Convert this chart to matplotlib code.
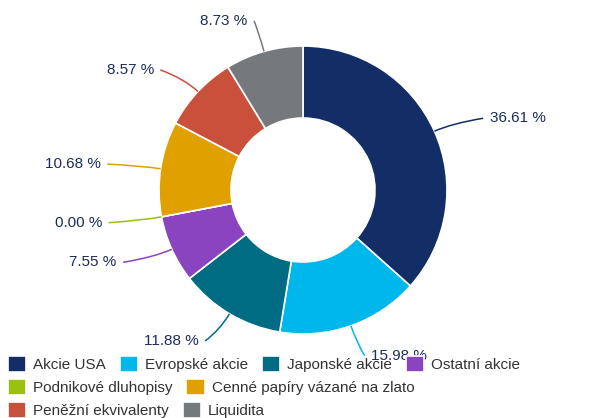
import numpy as np
import matplotlib.pyplot as plt
from matplotlib.path import Path
from matplotlib.patches import PathPatch

plt.rcParams['font.family'] = ['Liberation Sans', 'DejaVu Sans']

categories = ['Akcie USA', 'Evropské akcie', 'Japonské akcie', 'Ostatní akcie',
              'Podnikové dluhopisy', 'Cenné papíry vázané na zlato',
              'Peněžní ekvivalenty', 'Liquidita']
values = [36.61, 15.98, 11.88, 7.55, 0.00, 10.68, 8.57, 8.73]
colors = ['#132d67', '#00b7ec', '#006c84', '#8a44c0',
          '#9cc010', '#e0a000', '#c9503a', '#76797c']
legend_rows = [[0, 1, 2, 3], [4, 5], [6, 7]]

W, H = 600, 418
cx, cy, R = 303, 190, 144

fig = plt.figure(figsize=(W / 100, H / 100), dpi=100)
ax = fig.add_axes([0, 0, 1, 1])

wedges, _ = ax.pie(values, colors=colors, startangle=90, counterclock=False,
                   radius=1, wedgeprops=dict(width=0.5, edgecolor='white', linewidth=1.2))

# fix the pixel mapping: centre at (cx, cy), radius R
ax.set_aspect('auto')
ax.set_xlim(-cx / R, (W - cx) / R)
ax.set_ylim(-(H - cy) / R, cy / R)
ax.axis('off')

label_color = '#1c2d5a'
for w, v, c in zip(wedges, values, colors):
    mid = np.deg2rad((w.theta1 + w.theta2) / 2)   # math angle
    sx, sy = np.cos(mid), np.sin(mid)
    tx, ty = 1.42 * sx, 1.22 * sy
    right = sx >= 0
    gap = 0.045 if right else -0.045
    p0 = (sx, sy)
    p1 = (1.13 * sx, 1.13 * sy)
    p2 = (tx - gap, ty)
    path = Path([p0, p1, p2], [Path.MOVETO, Path.CURVE3, Path.CURVE3])
    ax.add_patch(PathPatch(path, fill=False, edgecolor=c, linewidth=1.1))
    ax.text(tx, ty, f'{v:.2f} %', ha='left' if right else 'right', va='center',
            fontsize=11, color=label_color)

row_y = [364, 387, 410]
for row, y in zip(legend_rows, row_y):
    fig.legend([wedges[i] for i in row], [categories[i] for i in row],
               loc='center left', bbox_to_anchor=(8 / W, 1 - y / H),
               ncol=len(row), frameon=False, fontsize=11, borderpad=0,
               borderaxespad=0, handlelength=1.2, handleheight=1.2,
               handletextpad=0.45, columnspacing=0.9, labelcolor='#333333')

fig.savefig('out.png', dpi=100)
